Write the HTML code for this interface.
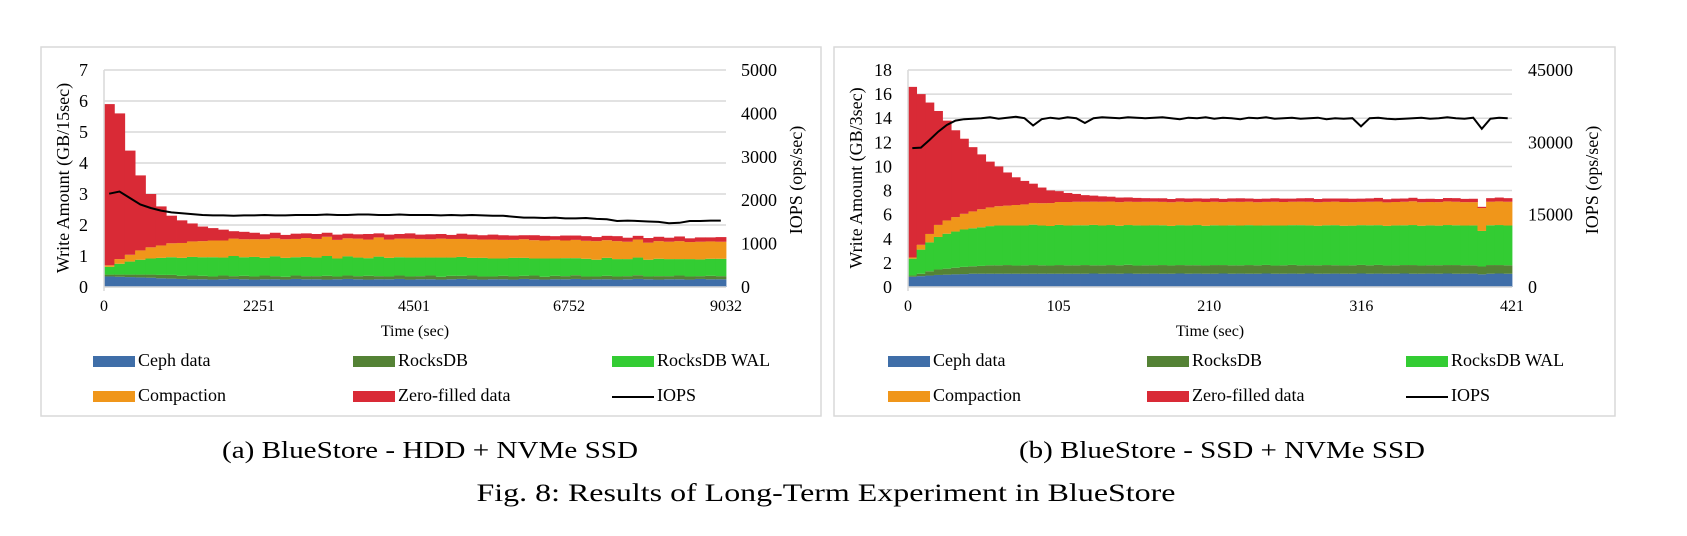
<!DOCTYPE html>
<html><head><meta charset="utf-8"><style>
html,body{margin:0;padding:0;background:#fff;}
svg{display:block;font-family:"Liberation Serif",serif;}
</style></head><body>
<svg id="fig" width="1687" height="536" viewBox="0 0 1687 536" xmlns="http://www.w3.org/2000/svg">
<rect x="41" y="47" width="780" height="369" fill="#fff" stroke="#d9d9d9" stroke-width="1.5"/>
<rect x="834" y="47" width="781" height="369" fill="#fff" stroke="#d9d9d9" stroke-width="1.5"/>
<g id="chartA"></g>
<g id="chartB"></g>
<text x="430" y="458" font-size="24" text-anchor="middle" textLength="416" lengthAdjust="spacingAndGlyphs">(a) BlueStore - HDD + NVMe SSD</text>
<text x="1222" y="458" font-size="24" text-anchor="middle" textLength="406" lengthAdjust="spacingAndGlyphs">(b) BlueStore - SSD + NVMe SSD</text>
<text x="826" y="501" font-size="25" text-anchor="middle" textLength="699" lengthAdjust="spacingAndGlyphs">Fig. 8: Results of Long-Term Experiment in BlueStore</text>
</svg>
<script>
// ---- Chart A data (HDD + NVMe), 60 bars over 0..9032 s ----
const aXTicks = [0, 2251, 4501, 6752, 9032];
const aYTicks = [0,1,2,3,4,5,6,7];
const aY2Ticks = [0,1000,2000,3000,4000,5000];
const aCeph = [0.34,0.33,0.32,0.31,0.3,0.28,0.27,0.26,0.25,0.25,0.24,0.25,0.26,0.25,0.24,0.25,0.25,0.24,0.26,0.25,0.25,0.24,0.25,0.26,0.25,0.24,0.25,0.25,0.26,0.24,0.25,0.25,0.24,0.25,0.26,0.25,0.24,0.25,0.25,0.24,0.26,0.25,0.24,0.25,0.25,0.26,0.24,0.25,0.25,0.24,0.25,0.26,0.25,0.24,0.25,0.25,0.24,0.26,0.25,0.25];
const aRocks = [0.06,0.07,0.08,0.09,0.1,0.11,0.12,0.1,0.12,0.11,0.1,0.12,0.09,0.11,0.1,0.12,0.1,0.09,0.11,0.1,0.1,0.12,0.09,0.11,0.1,0.12,0.1,0.09,0.11,0.1,0.1,0.12,0.09,0.11,0.1,0.12,0.1,0.09,0.11,0.1,0.1,0.12,0.09,0.11,0.1,0.12,0.1,0.09,0.11,0.1,0.1,0.12,0.09,0.11,0.1,0.12,0.1,0.09,0.11,0.1];
const aWal = [0.25,0.35,0.42,0.48,0.52,0.55,0.57,0.58,0.6,0.6,0.62,0.58,0.65,0.6,0.63,0.57,0.64,0.61,0.59,0.62,0.6,0.64,0.58,0.62,0.6,0.57,0.63,0.6,0.59,0.61,0.6,0.58,0.62,0.59,0.61,0.57,0.6,0.58,0.56,0.6,0.58,0.55,0.59,0.56,0.58,0.55,0.57,0.54,0.58,0.56,0.55,0.57,0.54,0.56,0.55,0.53,0.56,0.54,0.55,0.56];
const aComp = [0.05,0.15,0.22,0.3,0.36,0.4,0.45,0.48,0.5,0.52,0.54,0.55,0.56,0.58,0.57,0.6,0.58,0.6,0.59,0.61,0.6,0.62,0.6,0.58,0.61,0.6,0.62,0.59,0.6,0.61,0.6,0.59,0.61,0.6,0.58,0.6,0.59,0.61,0.6,0.58,0.6,0.59,0.58,0.6,0.57,0.59,0.58,0.6,0.57,0.58,0.56,0.58,0.55,0.57,0.56,0.58,0.55,0.57,0.56,0.55];
const aZero = [5.2,4.7,3.36,2.42,1.72,1.26,0.89,0.73,0.58,0.47,0.4,0.35,0.24,0.24,0.21,0.16,0.18,0.14,0.17,0.15,0.16,0.13,0.17,0.15,0.14,0.18,0.13,0.16,0.15,0.17,0.14,0.16,0.15,0.13,0.17,0.15,0.14,0.16,0.15,0.14,0.13,0.16,0.15,0.12,0.16,0.14,0.15,0.13,0.14,0.16,0.13,0.12,0.15,0.14,0.13,0.15,0.12,0.14,0.13,0.15];
const aIops = [2150,2200,2050,1900,1820,1760,1720,1700,1680,1660,1650,1650,1640,1650,1650,1660,1650,1650,1660,1660,1660,1670,1660,1660,1670,1670,1660,1660,1670,1660,1660,1660,1650,1660,1650,1660,1650,1640,1640,1620,1600,1600,1590,1600,1580,1580,1590,1570,1560,1520,1530,1520,1510,1500,1470,1480,1520,1520,1530,1530];

// ---- Chart B data (SSD + NVMe), 70 bars over 0..421 s ----
const bXTicks = [0, 105, 210, 316, 421];
const bYTicks = [0,2,4,6,8,10,12,14,16,18];
const bY2Ticks = [0,15000,30000,45000];
const bCeph = [0.85,0.9,0.95,1.0,1.02,1.05,1.07,1.1,1.1,1.1,1.1,1.1,1.1,1.1,1.1,1.1,1.1,1.1,1.1,1.1,1.1,1.12,1.1,1.11,1.1,1.12,1.1,1.1,1.11,1.1,1.1,1.12,1.1,1.11,1.1,1.1,1.12,1.1,1.11,1.1,1.1,1.12,1.1,1.1,1.11,1.1,1.12,1.1,1.1,1.11,1.1,1.1,1.12,1.1,1.11,1.1,1.1,1.12,1.1,1.1,1.11,1.1,1.12,1.1,1.1,1.11,1.05,1.1,1.12,1.1];
const bRocks = [0.1,0.2,0.35,0.45,0.5,0.55,0.6,0.62,0.65,0.7,0.7,0.72,0.68,0.7,0.72,0.7,0.68,0.72,0.7,0.7,0.72,0.68,0.7,0.71,0.7,0.72,0.68,0.7,0.7,0.72,0.69,0.7,0.71,0.7,0.68,0.72,0.7,0.7,0.69,0.72,0.7,0.71,0.68,0.7,0.72,0.7,0.69,0.7,0.72,0.7,0.68,0.7,0.71,0.7,0.72,0.69,0.7,0.7,0.72,0.68,0.7,0.71,0.7,0.72,0.7,0.69,0.65,0.72,0.7,0.7];
const bWal = [1.4,2.0,2.4,2.7,2.9,3.0,3.1,3.15,3.2,3.25,3.3,3.28,3.32,3.3,3.35,3.3,3.28,3.33,3.3,3.32,3.3,3.35,3.3,3.32,3.28,3.3,3.33,3.3,3.32,3.3,3.28,3.31,3.3,3.33,3.3,3.3,3.28,3.32,3.3,3.31,3.3,3.28,3.32,3.3,3.3,3.33,3.3,3.28,3.3,3.32,3.3,3.29,3.3,3.32,3.3,3.28,3.31,3.3,3.32,3.3,3.3,3.28,3.32,3.3,3.3,3.31,2.95,3.3,3.32,3.3];
const bComp = [0.1,0.4,0.7,1.0,1.1,1.2,1.3,1.4,1.5,1.55,1.6,1.65,1.7,1.75,1.8,1.85,1.9,1.9,1.95,1.95,1.95,1.93,1.97,1.95,1.96,1.94,1.95,1.97,1.95,1.94,1.96,1.95,1.93,1.95,1.97,1.95,1.94,1.95,1.96,1.95,1.93,1.95,1.97,1.95,1.94,1.95,1.96,1.95,1.94,1.95,1.97,1.95,1.93,1.95,1.96,1.95,1.94,1.95,1.97,1.95,1.94,1.95,1.96,1.95,1.94,1.93,1.9,1.95,1.96,1.97];
const bZero = [14.15,12.5,10.9,9.45,8.28,7.2,6.23,5.33,4.55,3.8,3.3,2.75,2.3,1.95,1.6,1.3,1.05,0.9,0.75,0.65,0.55,0.5,0.45,0.4,0.38,0.35,0.33,0.3,0.28,0.3,0.27,0.28,0.3,0.26,0.28,0.29,0.27,0.28,0.3,0.26,0.28,0.27,0.29,0.28,0.26,0.28,0.3,0.27,0.28,0.26,0.29,0.28,0.27,0.28,0.3,0.26,0.28,0.27,0.29,0.28,0.27,0.26,0.28,0.3,0.27,0.28,0.1,0.3,0.32,0.3];
const bIops = [28800,28900,30500,32200,33600,34500,34800,34900,35000,35200,34900,35100,35300,35000,33500,34800,35100,34900,35200,35000,34000,35000,35200,35100,35000,35200,35100,35000,35100,35200,35000,34800,35100,35000,35200,34900,35100,35000,34800,35100,35000,35200,34900,35000,35100,34900,35000,35100,34800,35000,34900,35000,33300,35000,35100,34900,34800,34900,35000,35100,34900,35000,35200,35000,34900,35100,32800,34900,35100,35000];

const NS = 'http://www.w3.org/2000/svg';
const COLORS = {ceph:'#3f6ea8', rocks:'#548235', wal:'#33cc33', comp:'#f0961a', zero:'#d92a36'};

function mk(parent, tag, attrs, text) {
  const e = document.createElementNS(NS, tag);
  for (const k in attrs) e.setAttribute(k, attrs[k]);
  if (text !== undefined) e.textContent = text;
  parent.appendChild(e);
  return e;
}

function drawChart(g, cfg) {
  const {x0, x1, y0, y1, yMax, y2Max, tMax} = cfg;
  const yS = v => y0 - v / yMax * (y0 - y1);
  const y2S = v => y0 - v / y2Max * (y0 - y1);
  const xS = t => x0 + t / tMax * (x1 - x0);
  // gridlines
  cfg.yTicks.forEach(v => {
    const l = mk(g, 'line', {x1: x0, x2: x1, y1: yS(v), y2: yS(v), stroke: '#d9d9d9', 'stroke-width': 1.5});
    
    
    const t = mk(g, 'text', {x: x0 - 16, y: yS(v) + 6, 'font-size': 18, 'text-anchor': 'end'}, String(v));
    
    
  });
  cfg.y2Ticks.forEach(v => {
    const t = mk(g, 'text', {x: cfg.y2LabelX, y: y2S(v) + 6, 'font-size': 18, 'text-anchor': 'start'}, String(v));
    
    
  });
  // bars
  const n = cfg.series[0].length;
  const bw = (x1 - x0) / n;
  const keys = ['ceph', 'rocks', 'wal', 'comp', 'zero'];
  const bars = mk(g, 'g', {});
  
  
  for (let i = 0; i < n; i++) {
    let base = 0;
    cfg.series.forEach((s, k) => {
      const v = s[i];
      const r = mk(bars, 'rect', {x: x0 + i * bw, y: yS(base + v), width: bw + 0.4, height: yS(base) - yS(base + v), fill: COLORS[keys[k]]});
      
      
      base += v;
    });
  }
  // axis line
  const ax = mk(g, 'line', {x1: x0, x2: x0, y1: y1, y2: y0 + 4, stroke: '#d9d9d9', 'stroke-width': 1.5});
  
  
  const bx = mk(g, 'line', {x1: x0, x2: x1, y1: y0, y2: y0, stroke: '#d9d9d9', 'stroke-width': 1.5});
  
  
  // IOPS line
  const pts = cfg.iops.map((v, i) => (x0 + (i + 0.5) * bw).toFixed(1) + ',' + y2S(v).toFixed(1)).join(' ');
  const pl = mk(g, 'polyline', {points: pts, fill: 'none', stroke: '#000', 'stroke-width': 2});
  
  
  // x ticks
  cfg.xTicks.forEach(v => {
    const t = mk(g, 'text', {x: xS(v), y: 311, 'font-size': 16, 'text-anchor': 'middle'}, String(v));
    
    
  });
  const xt = mk(g, 'text', {x: (x0 + x1) / 2, y: 336, 'font-size': 16, 'text-anchor': 'middle'}, 'Time (sec)');
  
  
  const yt = mk(g, 'text', {x: 0, y: 0, 'font-size': 18, 'text-anchor': 'middle', transform: `translate(${cfg.yTitleX},178) rotate(-90)`}, cfg.yTitle);
  
  
  const y2t = mk(g, 'text', {x: 0, y: 0, 'font-size': 18, 'text-anchor': 'middle', transform: `translate(${cfg.y2TitleX},180) rotate(-90)`}, 'IOPS (ops/sec)');
  
  
  // legend
  const items = [['Ceph data', COLORS.ceph], ['RocksDB', COLORS.rocks], ['RocksDB WAL', COLORS.wal], ['Compaction', COLORS.comp], ['Zero-filled data', COLORS.zero], ['IOPS', null]];
  items.forEach((it, i) => {
    const cx = cfg.legX[i % 3], ry = i < 3 ? 366 : 401;
    const lg = mk(g, 'g', {});
    
    
    if (it[1]) mk(lg, 'rect', {x: cx, y: ry - 10, width: 42, height: 11, fill: it[1]});
    else mk(lg, 'line', {x1: cx, x2: cx + 42, y1: ry - 4, y2: ry - 4, stroke: '#000', 'stroke-width': 2});
    mk(lg, 'text', {x: cx + 45, y: ry, 'font-size': 18}, it[0]);
  });
}

drawChart(document.getElementById('chartA'), {
  x0: 104, x1: 726, y0: 287, y1: 70, yMax: 7, y2Max: 5000, tMax: 9032,
  yTicks: aYTicks, y2Ticks: aY2Ticks, xTicks: aXTicks,
  series: [aCeph, aRocks, aWal, aComp, aZero], iops: aIops,
  y2LabelX: 741, yTitle: 'Write Amount (GB/15sec)', yTitleX: 69, y2TitleX: 802,
  legX: [93, 353, 612]
});
drawChart(document.getElementById('chartB'), {
  x0: 908, x1: 1512, y0: 287, y1: 70, yMax: 18, y2Max: 45000, tMax: 421,
  yTicks: bYTicks, y2Ticks: bY2Ticks, xTicks: bXTicks,
  series: [bCeph, bRocks, bWal, bComp, bZero], iops: bIops,
  y2LabelX: 1528, yTitle: 'Write Amount (GB/3sec)', yTitleX: 862, y2TitleX: 1598,
  legX: [888, 1147, 1406]
});
</script>
</body></html>
